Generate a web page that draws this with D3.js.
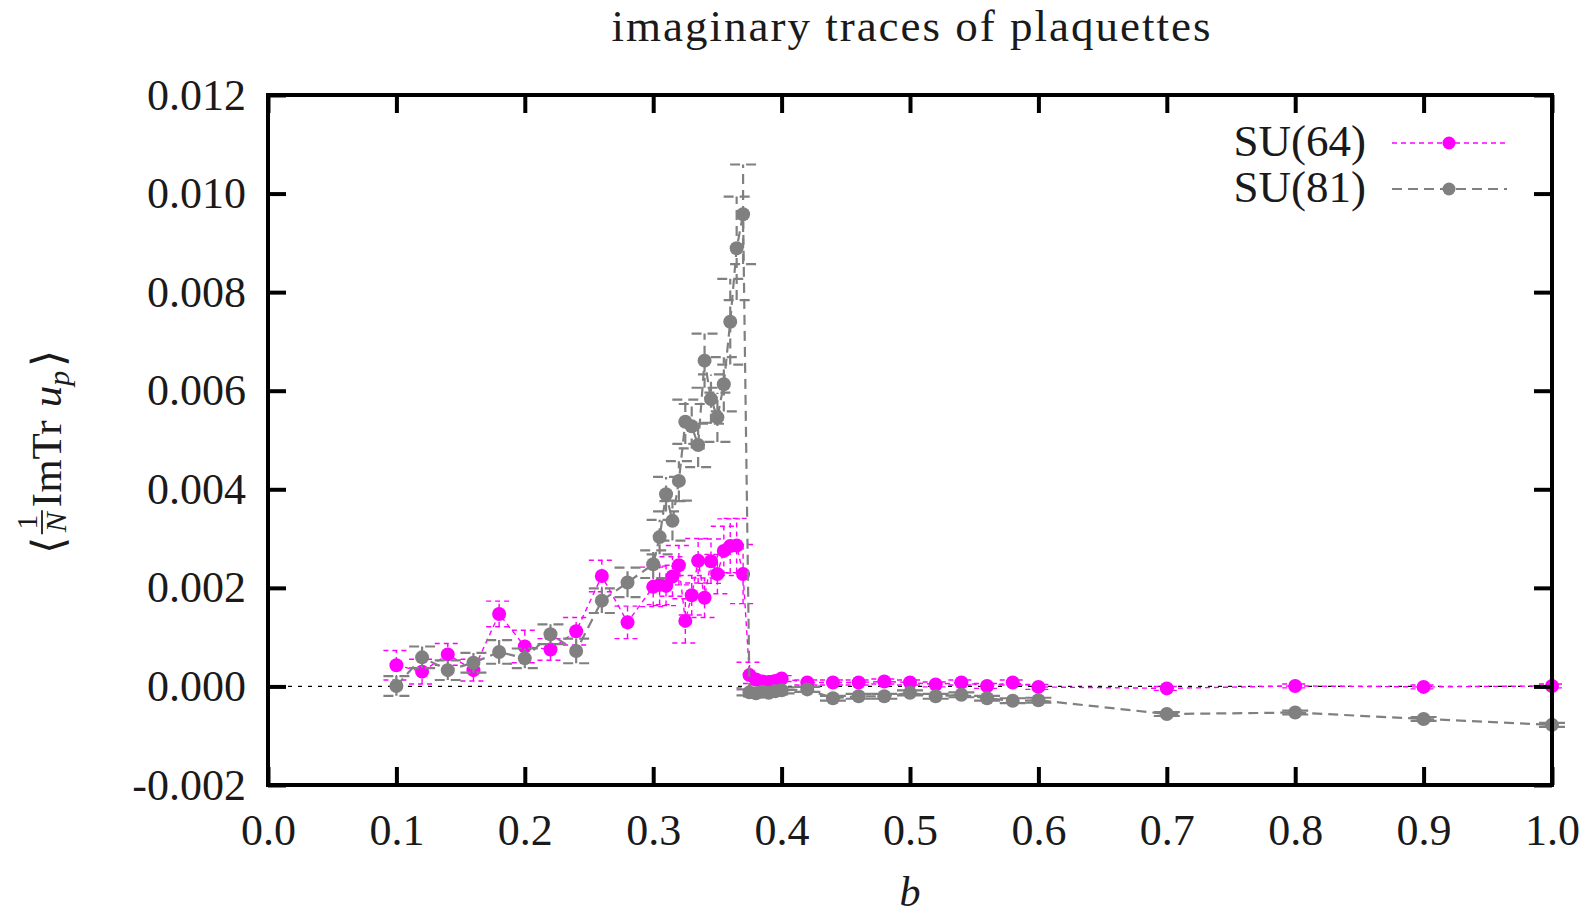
<!DOCTYPE html>
<html>
<head>
<meta charset="utf-8">
<script src="https://cdn.jsdelivr.net/npm/d3@7"></script>
<style>
  body { margin: 0; background: #fff; }
  svg { display: block; }
  text { font-family: "Liberation Serif", "Times New Roman", serif; fill: #1a1a1a; }
</style>
</head>
<body>
<svg id="chart" width="1588" height="915"></svg>
<script>
// coupling b at which both lattices were measured
const betaValues = [
  0.10, 0.12, 0.14, 0.16, 0.18, 0.20, 0.22, 0.24, 0.26, 0.28,
  0.300, 0.305, 0.310, 0.315, 0.320, 0.325, 0.330, 0.335, 0.340, 0.345,
  0.350, 0.355, 0.360, 0.365, 0.370, 0.375, 0.380, 0.385, 0.390, 0.395,
  0.400, 0.42, 0.44, 0.46, 0.48, 0.50, 0.52, 0.54, 0.56, 0.58,
  0.60, 0.70, 0.80, 0.90, 1.00
];

// SU(64): <(1/N) Im Tr u_p> and its statistical error
const su64Values = [
  0.00043, 0.00030, 0.00065, 0.00033, 0.00147, 0.00081, 0.00075, 0.00112, 0.00224, 0.00130,
  0.00202, 0.00206, 0.00204, 0.00223, 0.00246, 0.00133, 0.00185, 0.00255, 0.00180, 0.00254,
  0.00228, 0.00275, 0.00285, 0.00286, 0.00228, 0.00023, 0.00014, 0.00010, 0.00009, 0.00011,
  0.00016, 0.00008, 0.00008, 0.00008, 0.00010, 0.00008, 0.00004, 0.00008, 0.00001, 0.00008,
  -0.00001, -0.00004, 0.00001, -0.00001, 0.00001
];
const su64Errors = [
  0.00030, 0.00025, 0.00022, 0.00022, 0.00026, 0.00033, 0.00022, 0.00028, 0.00032, 0.00033,
  0.00040, 0.00040, 0.00040, 0.00040, 0.00040, 0.00045, 0.00040, 0.00045, 0.00040, 0.00045,
  0.00040, 0.00050, 0.00055, 0.00055, 0.00060, 0.00026, 0.00008, 0.00006, 0.00006, 0.00006,
  0.00006, 0.00005, 0.00005, 0.00005, 0.00005, 0.00005, 0.00005, 0.00005, 0.00005, 0.00005,
  0.00005, 0.00004, 0.00004, 0.00004, 0.00004
];

// SU(81): <(1/N) Im Tr u_p> and its statistical error
const su81Values = [
  0.00001, 0.00059, 0.00033, 0.00048, 0.00070, 0.00057, 0.00106, 0.00072, 0.00174, 0.00211,
  0.00248, 0.00303, 0.00390, 0.00336, 0.00417, 0.00537, 0.00528, 0.00490, 0.00661, 0.00583,
  0.00546, 0.00613, 0.00740, 0.00889, 0.00958, -0.00012, -0.00014, -0.00011, -0.00013, -0.00010,
  -0.00008, -0.00006, -0.00024, -0.00020, -0.00020, -0.00013, -0.00020, -0.00017, -0.00024, -0.00029,
  -0.00028, -0.00056, -0.00053, -0.00066, -0.00078
];
const su81Errors = [
  0.00020, 0.00022, 0.00020, 0.00020, 0.00024, 0.00020, 0.00020, 0.00025, 0.00025, 0.00030,
  0.00028, 0.00035, 0.00035, 0.00040, 0.00040, 0.00045, 0.00045, 0.00045, 0.00055, 0.00050,
  0.00050, 0.00055, 0.00087, 0.00105, 0.00101, 0.00006, 0.00006, 0.00006, 0.00006, 0.00006,
  0.00006, 0.00005, 0.00005, 0.00005, 0.00005, 0.00005, 0.00005, 0.00005, 0.00005, 0.00005,
  0.00005, 0.00004, 0.00004, 0.00004, 0.00004
];

const seriesNames = ["SU(64)", "SU(81)"];

const xTickValues = [0.0, 0.1, 0.2, 0.3, 0.4, 0.5, 0.6, 0.7, 0.8, 0.9, 1.0];
const xTickLabels = ["0.0", "0.1", "0.2", "0.3", "0.4", "0.5", "0.6", "0.7", "0.8", "0.9", "1.0"];
const yTickValues = [-0.002, 0.000, 0.002, 0.004, 0.006, 0.008, 0.010, 0.012];
const yTickLabels = ["-0.002", "0.000", "0.002", "0.004", "0.006", "0.008", "0.010", "0.012"];

const titleText = "imaginary traces of plaquettes";

// ---- layout ----
const svg = d3.select("#chart");
const plot = { left: 268, right: 1552, top: 95, bottom: 785 };
const tickLen = 18;
const capHalf = 13;

const x = d3.scaleLinear().domain([0, 1]).range([plot.left, plot.right]);
const y = d3.scaleLinear().domain([-0.002, 0.012]).range([plot.bottom, plot.top]);

const series = [
  { name: seriesNames[0], values: su64Values, errors: su64Errors,
    color: "#ff00ff", width: 1.4, dash: "5,4", r: 7 },
  { name: seriesNames[1], values: su81Values, errors: su81Errors,
    color: "#808080", width: 2.2, dash: "10,6", r: 7 }
];

// zero axis
svg.append("line")
  .attr("x1", x(0)).attr("x2", x(1))
  .attr("y1", y(0)).attr("y2", y(0))
  .attr("stroke", "#000").attr("stroke-width", 1.3)
  .attr("stroke-dasharray", "4,6");

// data: error bars, connecting lines, markers
series.forEach(s => {
  const pts = betaValues.map((b, i) => ({ b, v: s.values[i], e: s.errors[i] }));
  const g = svg.append("g");

  const eb = g.selectAll("g.err").data(pts).join("g").attr("class", "err")
    .attr("stroke", s.color).attr("stroke-width", s.width)
    .attr("stroke-dasharray", s.dash).attr("fill", "none");
  eb.append("line")
    .attr("x1", d => x(d.b)).attr("x2", d => x(d.b))
    .attr("y1", d => y(d.v - d.e)).attr("y2", d => y(d.v + d.e));
  eb.append("line")
    .attr("x1", d => x(d.b) - capHalf).attr("x2", d => x(d.b) + capHalf)
    .attr("y1", d => y(d.v + d.e)).attr("y2", d => y(d.v + d.e));
  eb.append("line")
    .attr("x1", d => x(d.b) - capHalf).attr("x2", d => x(d.b) + capHalf)
    .attr("y1", d => y(d.v - d.e)).attr("y2", d => y(d.v - d.e));

  g.append("path")
    .datum(pts)
    .attr("fill", "none")
    .attr("stroke", s.color).attr("stroke-width", s.width)
    .attr("stroke-dasharray", s.dash)
    .attr("d", d3.line().x(d => x(d.b)).y(d => y(d.v)));

  g.selectAll("circle").data(pts).join("circle")
    .attr("cx", d => x(d.b)).attr("cy", d => y(d.v))
    .attr("r", s.r).attr("fill", s.color);
});

// axes with inward ticks on all four sides
const axisFont = 44;
const xAxis = svg.append("g").attr("transform", `translate(0,${plot.bottom})`)
  .call(d3.axisBottom(x).tickValues(xTickValues)
    .tickFormat((d, i) => xTickLabels[i])
    .tickSizeInner(-tickLen).tickSizeOuter(0).tickPadding(29));
const yAxis = svg.append("g").attr("transform", `translate(${plot.left},0)`)
  .call(d3.axisLeft(y).tickValues(yTickValues)
    .tickFormat((d, i) => yTickLabels[i])
    .tickSizeInner(-tickLen).tickSizeOuter(0).tickPadding(22));
const xTop = svg.append("g").attr("transform", `translate(0,${plot.top})`)
  .call(d3.axisTop(x).tickValues(xTickValues).tickFormat("")
    .tickSizeInner(-tickLen).tickSizeOuter(0));
const yRight = svg.append("g").attr("transform", `translate(${plot.right},0)`)
  .call(d3.axisRight(y).tickValues(yTickValues).tickFormat("")
    .tickSizeInner(-tickLen).tickSizeOuter(0));

[xAxis, yAxis, xTop, yRight].forEach(a => {
  a.select(".domain").remove();
  a.selectAll(".tick line").attr("stroke", "#000").attr("stroke-width", 4);
  a.selectAll(".tick text")
    .attr("font-family", "'Liberation Serif', 'Times New Roman', serif")
    .attr("font-size", axisFont).attr("fill", "#1a1a1a");
});

// frame
svg.append("rect")
  .attr("x", plot.left).attr("y", plot.top)
  .attr("width", plot.right - plot.left).attr("height", plot.bottom - plot.top)
  .attr("fill", "none").attr("stroke", "#000").attr("stroke-width", 4);

// title
svg.append("text")
  .attr("x", (plot.left + plot.right) / 2 + 2).attr("y", 41)
  .attr("text-anchor", "middle")
  .attr("font-size", 45).attr("letter-spacing", "2px")
  .text(titleText);

// x axis label
svg.append("text")
  .attr("x", (plot.left + plot.right) / 2).attr("y", 906)
  .attr("text-anchor", "middle")
  .attr("font-size", 42).attr("font-style", "italic")
  .text("b");

// y axis label: < (1/N) ImTr u_p >, laid out piece by piece then rotated
const yl = svg.append("g").attr("transform", `translate(61,452) rotate(-90)`);
const inner = yl.append("g");
let cx = 0;
function piece(str, size, italic, dy, gap) {
  const t = inner.append("text").text(str)
    .attr("x", cx).attr("y", dy)
    .attr("font-size", size)
    .attr("font-style", italic ? "italic" : "normal");
  cx += t.node().getComputedTextLength() + (gap || 0);
  return t;
}
piece("\u27E8", 44, false, 2, 3);
{
  const num = inner.append("text").text("1").attr("font-size", 30).attr("y", -24);
  const den = inner.append("text").text("N").attr("font-size", 30).attr("font-style", "italic").attr("y", 5);
  const wn = num.node().getComputedTextLength();
  const wd = den.node().getComputedTextLength();
  const w = Math.max(wn, wd) + 4;
  num.attr("x", cx + (w - wn) / 2);
  den.attr("x", cx + (w - wd) / 2);
  inner.append("line").attr("x1", cx).attr("x2", cx + w)
    .attr("y1", -19).attr("y2", -19).attr("stroke", "#1a1a1a").attr("stroke-width", 1.8);
  cx += w + 3;
}
piece("ImTr", 43, false, 0, 13);
piece("u", 43, true, 0, 0);
piece("p", 30, true, 8, 4);
piece("\u27E9", 44, false, 2, 0);
inner.attr("transform", `translate(${-cx / 2},0)`);

// legend
const legend = svg.append("g");
const legendRows = [143, 189];
series.forEach((s, i) => {
  const ly = legendRows[i];
  legend.append("text")
    .attr("x", 1366).attr("y", ly + 13)
    .attr("text-anchor", "end")
    .attr("font-size", 45)
    .text(s.name);
  legend.append("line")
    .attr("x1", 1392).attr("x2", 1507).attr("y1", ly).attr("y2", ly)
    .attr("stroke", s.color).attr("stroke-width", s.width)
    .attr("stroke-dasharray", s.dash);
  legend.append("circle")
    .attr("cx", 1449).attr("cy", ly).attr("r", 6.5).attr("fill", s.color);
});
</script>
</body>
</html>
